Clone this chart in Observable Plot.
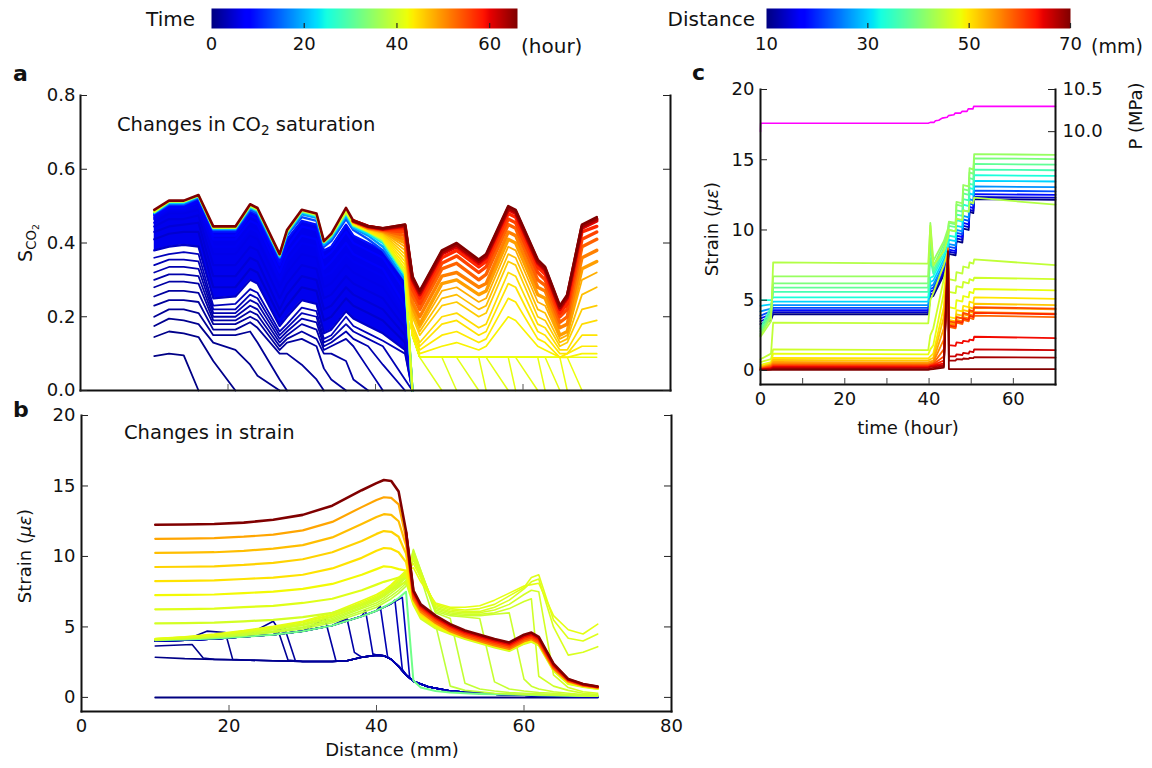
<!DOCTYPE html>
<html><head><meta charset="utf-8">
<script src="https://cdn.jsdelivr.net/npm/d3@7"></script>
<script src="https://cdn.jsdelivr.net/npm/@observablehq/plot@0.6"></script>
<style>
body{margin:0;background:#fff;}
#root{position:relative;width:1152px;height:768px;font-family:"DejaVu Sans",sans-serif;color:#111;overflow:hidden;}
.lbl{position:absolute;white-space:nowrap;line-height:1;}
.rot{transform:translate(-50%,-50%) rotate(-90deg);}
sub{font-size:70%;vertical-align:-0.3em;line-height:0;}
</style></head><body><div id="root"></div>
<script>
// ---------- colour bar ticks ----------
const timeDomain = [0, 66];
const distDomain = [10, 70];
const timeTicks = [0, 20, 40, 60];
const timeTickMarks = [20, 40, 60];
const distTicks = [10, 30, 50, 70];
const distTickMarks = [30, 50, 70];

// ---------- panel a : CO2 saturation vs distance ----------
const distA = [10,12,14,16,18,21,23,24,27,28,30,32,33,34,36,37,39,41,44,45,46,49,51,54,55,58,59,62,63,65,66,68,70];
const aYTicks = [0, 0.2, 0.4, 0.6, 0.8];
const aXMinor = [20, 40, 60];
// early times: CO2 front advancing (values from distance 10 onward)
const satEarly = [
  {t:0.3, v:[.093,.10,.095,0]},
  {t:0.6, v:[.145,.16,.155,.145,.08,0]},
  {t:0.9, v:[.175,.195,.19,.18,.13,.11,.07,.04,0]},
  {t:1.2, v:[.20,.22,.22,.21,.15,.15,.16,.13,.03,0]},
  {t:1.5, v:[.23,.245,.245,.24,.165,.165,.185,.17,.10,.10,.07,.03,0]},
  {t:1.8, v:[.255,.27,.27,.265,.18,.18,.20,.19,.11,.13,.14,.12,.06,.03,0]},
  {t:2.1, v:[.28,.295,.295,.29,.19,.19,.215,.205,.12,.14,.16,.14,.10,.10,.08,.03,0]},
  {t:2.4, v:[.30,.315,.315,.31,.20,.20,.23,.22,.13,.15,.18,.165,.11,.12,.14,.12,.06,0]},
  {t:2.7, v:[.32,.335,.335,.33,.21,.21,.245,.235,.14,.16,.195,.185,.12,.13,.16,.14,.12,.07,0]},
  {t:3.0, v:[.34,.355,.355,.35,.22,.22,.26,.25,.15,.17,.21,.20,.13,.14,.18,.16,.14,.12,.03,0]},
  {t:3.4, v:[.36,.37,.375,.37,.23,.235,.275,.265,.16,.18,.225,.215,.14,.15,.20,.175,.155,.135,.10,0]}
];
// dense blue band (distance 10..45)
const satBand = [
  {t:4,   v:[.38,.39,.395,.39,.25,.255,.30,.29,.175,.20,.245,.235,.155,.165,.215,.195,.175,.155,.11,0]},
  {t:4.5, v:[.41,.425,.43,.43,.28,.28,.33,.32,.2,.23,.28,.27,.19,.2,.25,.23,.21,.19,.13,0]},
  {t:5,   v:[.43,.445,.45,.455,.31,.31,.36,.35,.22,.26,.31,.3,.22,.23,.28,.26,.24,.22,.15,0]},
  {t:5.5, v:[.445,.465,.465,.475,.34,.34,.39,.38,.25,.29,.34,.33,.25,.26,.31,.29,.27,.25,.17,0]},
  {t:6,   v:[.455,.48,.48,.49,.37,.37,.42,.41,.28,.32,.37,.36,.28,.29,.34,.32,.3,.28,.19,0]},
  {t:6.5, v:[.465,.49,.49,.5,.39,.39,.44,.43,.3,.35,.4,.39,.31,.32,.37,.35,.33,.31,.21,0]},
  {t:7,   v:[.47,.495,.495,.51,.41,.41,.46,.45,.32,.37,.42,.41,.33,.35,.4,.37,.35,.33,.23,0]},
  {t:8,   v:[.475,.5,.5,.515,.42,.42,.475,.465,.34,.39,.445,.435,.36,.375,.43,.4,.38,.36,.27,0]},
  {t:9,   v:[.478,.503,.503,.52,.43,.43,.485,.475,.35,.41,.46,.45,.38,.39,.45,.42,.4,.38,.3,0]}
];
const satTop = [
  {t:13,   v:[.48,.505,.505,.522,.435,.435,.49,.48,.36,.42,.47,.46,.39,.405,.465,.435,.41,.38,.3,0]},
  {t:18,   v:[.482,.508,.508,.525,.438,.438,.495,.485,.362,.425,.478,.468,.395,.412,.472,.44,.42,.39,.30,0]},
  {t:23,   v:[.483,.51,.51,.527,.44,.44,.498,.488,.365,.428,.483,.472,.4,.417,.478,.445,.425,.40,.31,0]},
  {t:32,   v:[.484,.512,.512,.528,.441,.441,.5,.49,.367,.43,.486,.475,.402,.42,.482,.448,.43,.405,.315,0]},
  {t:40.5, v:[.485,.513,.513,.529,.442,.442,.502,.492,.368,.432,.488,.477,.403,.422,.485,.45,.432,.41,.32,0]}
];
// after pressure rise: fronts beyond 44 mm (values from distance 44 onward)
const satFront = [
  {t:40.9, v:[.32,.15,.09,0]},
  {t:41.0, v:[.32,.15,.09,.09,0]},
  {t:41.1, v:[.32,.15,.09,.09,.09,0]},
  {t:41.2, v:[.32,.15,.09,.09,.09,.09,0]},
  {t:41.3, v:[.32,.15,.09,.09,.09,.09,.09,0]},
  {t:41.4, v:[.32,.15,.09,.09,.09,.09,.09,.09,0]},
  {t:41.5, v:[.32,.15,.09,.09,.09,.09,.09,.09,.09,0]},
  {t:41.6, v:[.32,.15,.09,.09,.09,.09,.09,.09,.09,.09,0]},
  {t:41.7, v:[.32,.15,.09,.09,.09,.09,.09,.09,.09,.09,.09,0]},
  {t:41.8, v:[.32,.15,.09,.09,.09,.09,.09,.09,.09,.09,.09,.09,0]},
  {t:41.9, v:[.32,.15,.09,.09,.09,.09,.09,.09,.09,.09,.09,.09,.09,0]},
  {t:42.0, v:[.32,.15,.09,.09,.09,.09,.09,.09,.09,.09,.09,.09,.09,.09,.09]}
];
// rising saturation (values from distance 37 onward)
const satRise = [
  {t:43.1, v:[.452,.432,.412,.33,.15,.1,.12,.13,.11,.12,.2,.19,.12,.11,.09,.09,.1,.1]},
  {t:43.7, v:[.453,.434,.415,.34,.16,.11,.15,.16,.13,.14,.25,.24,.14,.13,.09,.1,.12,.12]},
  {t:44.2, v:[.454,.435,.418,.35,.17,.12,.18,.19,.15,.16,.29,.28,.16,.15,.1,.1,.15,.15]},
  {t:44.7, v:[.455,.436,.421,.36,.18,.13,.2,.21,.17,.18,.32,.31,.18,.17,.11,.11,.18,.19]},
  {t:45.8, v:[.456,.437,.424,.37,.2,.15,.23,.24,.2,.21,.35,.34,.2,.19,.12,.13,.22,.23]},
  {t:46.8, v:[.457,.438,.427,.38,.21,.16,.25,.26,.22,.23,.37,.36,.22,.21,.13,.14,.26,.28]},
  {t:47.9, v:[.457,.439,.429,.39,.22,.17,.27,.28,.24,.25,.39,.38,.24,.23,.14,.15,.3,.32]},
  {t:49,   v:[.458,.44,.431,.40,.23,.18,.29,.3,.26,.27,.41,.4,.26,.25,.15,.16,.33,.35]},
  {t:51.1, v:[.458,.441,.433,.41,.24,.2,.31,.32,.28,.29,.43,.42,.28,.27,.17,.18,.36,.38]},
  {t:53.2, v:[.459,.442,.435,.42,.26,.22,.33,.345,.3,.315,.45,.44,.3,.285,.185,.2,.39,.41]},
  {t:55.4, v:[.459,.443,.436,.43,.275,.235,.345,.365,.32,.335,.465,.455,.32,.3,.2,.22,.41,.43]},
  {t:57.5, v:[.46,.444,.437,.44,.29,.25,.36,.38,.335,.35,.48,.47,.335,.315,.21,.235,.43,.445]},
  {t:60.7, v:[.46,.445,.438,.445,.3,.26,.37,.39,.345,.36,.49,.48,.345,.325,.22,.25,.44,.46]},
  {t:63.9, v:[.46,.445,.439,.448,.305,.265,.375,.395,.35,.365,.495,.485,.35,.33,.225,.255,.445,.465]}
];
const satFinal = {t:66, v:[.49,.515,.515,.53,.445,.445,.505,.495,.37,.435,.49,.48,.405,.425,.495,.46,.445,.44,.45,.31,.27,.38,.4,.355,.37,.5,.49,.355,.335,.23,.26,.45,.47]};

// ---------- panel b : strain vs distance ----------
const distB = [10,14,18,22,26,30,34,38,40,41,42,43,44,45,46,48,50,52,54,56,58,60,61,62,64,66,68,70];
const bYTicks = [0, 5, 10, 15, 20];
const bXTicks = [0, 20, 40, 60, 80];
const bXMinor = [20, 40, 60];
const strainZero = {t:0, pts:[[10,0],[70,0]]};
const strainUpper = [[10,4.0],[14,4.05],[18,4.15],[22,4.3],[26,4.45],[30,4.7],[34,5.1],[38,5.75],[40,6.15],[42,6.65],[44,7.3]];
const strainLower = [[10,2.85],[14,2.75],[18,2.7],[22,2.65],[26,2.6],[30,2.55],[34,2.55],[36,2.6],[38,2.85],[40,3.0],[41,2.95],[42,2.7],[43,2.2],[44,1.6],[45,1.15],[47,0.75],[50,0.45],[55,0.25],[60,0.15],[65,0.08],[70,0.05]];
const strainSpikes = [
  {t:0.4, spike:[]},
  {t:0.7, spike:[[10,3.65],[15,3.75],[16.5,2.8]]},
  {t:1.0, spike:[[17,4.7],[19.5,4.6],[20.5,2.7]]},
  {t:1.3, spike:[[26,5.4],[26.5,5.0],[28,2.65]]},
  {t:1.6, spike:[[27.5,5.0],[29,2.6]]},
  {t:1.9, spike:[[33,5.6],[34.5,2.6]]},
  {t:2.2, spike:[[36,5.6],[37,3.2]]},
  {t:2.5, spike:[[38.5,6.2],[39.5,3.1]]},
  {t:2.8, spike:[[40.5,6.5],[41.5,2.9]]},
  {t:3.1, spike:[[42.5,6.9],[43.5,2.0]]},
  {t:3.4, spike:[[43.5,7.1],[44.5,1.4]]}
];
const strainFlatHead = [4.05,4.1,4.18,4.3,4.45,4.7,5.1,5.75,6.15,6.4,6.7,7.05,7.5];
const strainFlatTail = [1.2,0.7,0.45,0.35,0.3,0.25,0.22,0.2,0.18,0.17,0.16,0.14,0.12,0.1,0.1];
const strainFlatTimes = [32];
const strainFronts = [
  {t:38.3, v:[4.1,4.15,4.25,4.4,4.6,4.85,5.3,6.0,6.4,6.7,7.0,7.4,7.9,9.8,8.5,5.2,0.8,0.5,0.4,0.3,0.25,0.2,0.2,0.18,0.15,0.13,0.1,0.1]},
  {t:38.7, v:[4.1,4.17,4.3,4.45,4.65,4.95,5.4,6.15,6.55,6.85,7.2,7.6,8.1,10.2,8.8,6.0,5.6,1.0,0.6,0.45,0.35,0.3,0.28,0.25,0.2,0.15,0.12,0.1]},
  {t:39.0, v:[4.1,4.18,4.32,4.5,4.7,5.0,5.5,6.3,6.7,7.0,7.4,7.8,8.3,10.5,9.0,6.1,5.8,5.7,5.6,1.1,0.6,0.45,0.4,0.35,0.3,0.2,0.15,0.12]},
  {t:39.3, v:[4.1,4.2,4.35,4.55,4.8,5.1,5.6,6.4,6.85,7.15,7.55,8.0,8.5,10.4,9.0,6.2,5.9,5.8,5.8,5.9,6.0,1.3,0.8,0.6,0.4,0.3,0.2,0.15]},
  {t:39.7, v:[4.12,4.22,4.38,4.6,4.85,5.15,5.7,6.5,6.95,7.25,7.65,8.1,8.6,10.2,8.9,6.3,6.0,5.9,5.9,6.0,6.3,6.8,7.0,1.5,0.8,0.5,0.3,0.2]},
  {t:40.0, v:[4.12,4.24,4.4,4.62,4.9,5.2,5.75,6.55,7.0,7.35,7.75,8.2,8.7,10.0,8.8,6.4,6.1,6.0,6.0,6.2,6.6,7.3,7.6,7.5,1.6,0.7,0.4,0.3]},
  {t:40.5, v:[4.15,4.26,4.43,4.65,4.95,5.3,5.85,6.65,7.1,7.45,7.85,8.3,8.8,9.8,8.7,6.5,6.2,6.1,6.1,6.4,6.9,7.7,8.2,8.4,5.0,3.0,3.2,3.6]},
  {t:41.0, v:[4.15,4.28,4.45,4.7,5.0,5.35,5.9,6.75,7.2,7.55,7.95,8.4,8.9,9.5,8.5,6.6,6.3,6.2,6.3,6.6,7.2,7.8,8.5,8.7,5.5,4.2,4.0,4.5]},
  {t:41.5, v:[4.18,4.3,4.5,4.75,5.05,5.4,6.0,6.85,7.3,7.6,8.0,8.5,9.0,9.2,8.2,6.7,6.4,6.4,6.5,6.9,7.4,7.9,8.0,8.1,5.8,4.8,4.5,5.2]}
];
const strainSteps = [
  {t:40.0, v:[5.25,5.27,5.3,5.4,5.5,5.7,6.0,6.6,7.0,7.3,7.6,7.9,8.2,6.6,5.6,4.9,4.5,4.15,3.85,3.55,3.3,3.8,3.95,3.7,1.9,0.95,0.75,0.6]},
  {t:41.0, v:[6.25,6.27,6.3,6.4,6.5,6.7,7.0,7.6,8.0,8.2,8.35,8.5,8.6,6.7,5.7,5.0,4.55,4.2,3.9,3.6,3.35,3.85,4.0,3.75,1.95,1.0,0.78,0.62]},
  {t:42.6, v:[7.25,7.27,7.3,7.4,7.5,7.7,8.05,8.7,9.1,9.3,9.25,9.1,9.0,6.8,5.8,5.1,4.6,4.25,3.95,3.65,3.4,3.9,4.05,3.8,2.0,1.05,0.8,0.65]},
  {t:44.2, v:[8.25,8.27,8.3,8.4,8.5,8.7,9.15,9.9,10.4,10.6,10.55,10.3,9.6,6.9,5.9,5.2,4.65,4.3,4.0,3.7,3.45,4.0,4.15,3.85,2.05,1.1,0.82,0.68]},
  {t:45.3, v:[9.25,9.27,9.3,9.4,9.55,9.8,10.3,11.1,11.6,11.8,11.75,11.4,10.2,7.0,6.0,5.3,4.75,4.35,4.05,3.75,3.5,4.05,4.2,3.9,2.1,1.15,0.85,0.7]},
  {t:46.8, v:[10.25,10.27,10.3,10.4,10.55,10.8,11.35,12.3,12.8,13.0,12.95,12.5,10.8,7.2,6.2,5.4,4.85,4.45,4.15,3.85,3.6,4.15,4.3,4.0,2.15,1.2,0.88,0.73]},
  {t:48.5, v:[11.25,11.27,11.3,11.4,11.55,11.85,12.45,13.5,14.0,14.2,14.15,13.7,11.3,7.4,6.4,5.6,5.0,4.6,4.3,4.0,3.75,4.3,4.45,4.15,2.25,1.25,0.9,0.75]}
];
// orange band near the final curve (values from distance 44 onward)
const strainLate = [
  {t:51.1, v:[11.5,7.0,6.1,5.3,4.7,4.3,4.0,3.7,3.45,4.0,4.15,3.85,2.05,1.15,0.85,0.7]},
  {t:54.3, v:[11.6,7.2,6.25,5.45,4.85,4.42,4.12,3.82,3.57,4.12,4.27,3.97,2.15,1.2,0.88,0.72]},
  {t:57.5, v:[11.7,7.35,6.4,5.6,5.0,4.55,4.25,3.95,3.7,4.25,4.4,4.1,2.25,1.25,0.9,0.74]},
  {t:60.7, v:[11.75,7.5,6.5,5.7,5.1,4.65,4.35,4.05,3.8,4.35,4.5,4.2,2.32,1.28,0.93,0.76]}
];
const strainFinal = {t:66, v:[12.25,12.27,12.3,12.4,12.6,12.95,13.6,14.7,15.2,15.42,15.35,14.6,11.8,7.6,6.6,5.8,5.2,4.75,4.45,4.15,3.9,4.45,4.6,4.3,2.4,1.3,0.95,0.78]};

// ---------- panel c : strain vs time, pressure ----------
const timeC = [0,2.5,3,39.8,40.3,41,43.5,44.5,44.7,46.3,46.5,47.9,48.1,49.4,49.6,50.5,50.7,70];
const cYTicks = [0, 5, 10, 15, 20];
const cXTicks = [0, 20, 40, 60];
const cXMinor = [10, 20, 30, 40, 50, 60];
const pTicks = [10.0, 10.5];
const strainByDist = [
  {d:10, v:[3.3,3.6,4.0,4.0,5.2,5.3,6.8,7.6,8.3,8.2,9.2,9.1,10.1,10.0,11.3,11.2,12.2,12.15]},
  {d:14, v:[3.5,3.8,4.15,4.15,5.4,5.5,7.0,7.8,8.45,8.35,9.4,9.3,10.3,10.2,11.45,11.35,12.35,12.3]},
  {d:18, v:[3.7,4.0,4.3,4.3,5.6,5.7,7.2,8.0,8.6,8.5,9.6,9.5,10.5,10.4,11.65,11.55,12.55,12.5]},
  {d:22, v:[3.9,4.2,4.45,4.45,5.8,5.9,7.4,8.2,8.8,8.7,9.8,9.7,10.75,10.65,11.9,11.8,12.8,12.75]},
  {d:26, v:[4.2,4.4,4.65,4.65,6.0,6.1,7.6,8.4,9.0,8.9,10.0,9.9,11.0,10.9,12.2,12.1,13.1,13.05]},
  {d:30, v:[4.6,4.7,4.9,4.9,6.3,6.4,7.9,8.7,9.3,9.2,10.3,10.2,11.4,11.3,12.6,12.5,13.5,13.45]},
  {d:33, v:[5.0,5.0,5.2,5.2,6.6,6.7,8.2,9.0,9.6,9.5,10.7,10.6,11.8,11.7,13.0,12.9,13.9,13.85]},
  {d:36, v:[3.0,4.5,5.6,5.6,8.0,6.9,8.5,9.4,10.0,9.9,11.1,11.0,12.2,12.1,13.3,13.2,14.3,14.25]},
  {d:38, v:[2.8,4.2,5.9,5.9,9.0,7.1,8.7,9.7,10.3,10.2,11.4,11.3,12.6,12.5,13.7,13.6,14.7,14.65]},
  {d:40, v:[2.6,4.0,6.2,6.2,9.8,7.4,9.0,9.9,10.5,10.4,11.8,11.7,12.9,12.8,14.1,14.0,15.1,15.05]},
  {d:42, v:[2.5,3.8,6.7,6.7,10.5,7.8,9.2,10.1,10.6,10.5,12.0,11.9,13.2,13.1,14.4,14.3,15.4,15.35]},
  {d:44, v:[2.4,3.5,7.7,7.6,10.3,7.5,8.5,9.5,10.0,9.9,10.8,10.7,11.4,11.3,12.0,11.9,12.3,11.8]},
  {d:45, v:[0.8,1.2,3.4,3.35,5.0,5.5,7.5,8.5,6.5,6.4,7.0,6.9,7.4,7.3,7.7,7.6,7.9,7.5]},
  {d:46, v:[0.6,0.8,1.5,1.45,2.5,3.0,6.5,8.0,5.6,5.5,6.0,5.9,6.3,6.2,6.5,6.4,6.6,6.5]},
  {d:48, v:[0.4,0.6,1.2,1.15,1.5,1.8,5.5,8.2,4.5,4.4,5.0,4.9,5.3,5.2,5.6,5.5,5.8,5.7]},
  {d:50, v:[0.3,0.5,0.9,0.85,1.0,1.2,4.5,8.4,3.8,3.7,4.3,4.2,4.6,4.5,4.9,4.8,5.2,5.1]},
  {d:52, v:[0.25,0.45,0.75,0.7,0.8,0.9,3.8,8.5,3.6,3.5,4.0,3.9,4.3,4.2,4.5,4.4,4.75,4.65]},
  {d:54, v:[0.2,0.4,0.6,0.58,0.65,0.7,3.0,8.6,3.4,3.3,3.8,3.7,4.0,3.9,4.2,4.1,4.45,4.35]},
  {d:56, v:[0.18,0.35,0.5,0.48,0.55,0.6,2.2,8.7,3.3,3.2,3.6,3.5,3.8,3.7,4.0,3.9,4.15,4.05]},
  {d:58, v:[0.15,0.3,0.42,0.4,0.45,0.5,1.5,8.6,3.1,3.0,3.4,3.3,3.6,3.5,3.75,3.65,3.9,3.8]},
  {d:60, v:[0.12,0.25,0.36,0.35,0.4,0.45,1.0,8.5,3.5,3.4,3.8,3.7,4.1,4.0,4.3,4.2,4.5,4.4]},
  {d:62, v:[0.1,0.2,0.3,0.28,0.35,0.4,0.7,8.4,3.2,3.1,3.5,3.4,3.7,3.6,3.9,3.8,4.1,4.0]},
  {d:64, v:[0.08,0.15,0.25,0.23,0.3,0.35,0.5,8.3,1.8,1.75,2.0,1.95,2.1,2.05,2.2,2.15,2.4,2.3]},
  {d:66, v:[0.06,0.12,0.2,0.18,0.25,0.28,0.4,8.2,1.0,1.0,1.15,1.1,1.25,1.2,1.35,1.3,1.5,1.45]},
  {d:68, v:[0.04,0.08,0.12,0.1,0.15,0.18,0.3,8.0,0.7,0.7,0.8,0.78,0.85,0.83,0.9,0.88,0.95,0.92]},
  {d:70, v:[0.02,0.04,0.05,0.05,0.08,0.1,0.2,8.5,0.1,0.1,0.1,0.1,0.1,0.1,0.1,0.1,0.1,0.1]}
];
const pressureTime = [0,0.05,39.8,40.3,41.2,41.5,42.3,43.1,44.3,44.6,45.9,46.2,47.5,47.8,49.0,49.3,50.4,50.6,70];
const pressureMPa  = [10.0,10.1,10.1,10.11,10.11,10.13,10.135,10.16,10.17,10.19,10.2,10.22,10.22,10.24,10.24,10.27,10.27,10.3,10.3];

// ---------- helpers ----------
function jet(t) {
  t = Math.max(0, Math.min(1, t));
  const seg = (pts) => {
    for (let i = 1; i < pts.length; i++) {
      if (t <= pts[i][0]) { const [x0, y0] = pts[i - 1], [x1, y1] = pts[i]; return y0 + (y1 - y0) * (t - x0) / (x1 - x0); }
    }
    return pts[pts.length - 1][1];
  };
  const r = seg([[0,0],[0.35,0],[0.66,1],[0.89,1],[1,0.5]]);
  const g = seg([[0,0],[0.125,0],[0.375,1],[0.64,1],[0.91,0],[1,0]]);
  const b = seg([[0,0.5],[0.11,1],[0.34,1],[0.65,0],[1,0]]);
  return `rgb(${Math.round(r*255)},${Math.round(g*255)},${Math.round(b*255)})`;
}
const FONT = '"DejaVu Sans", sans-serif';
const baseStyle = {fontFamily: FONT, fontSize: "18px", color: "#111", background: "transparent", overflow: "visible"};
const root = document.getElementById("root");
function place(node, left, top) {
  const w = document.createElement("div");
  w.style.cssText = `position:absolute;left:${left}px;top:${top}px;`;
  w.appendChild(node); root.appendChild(w);
}
function label(html, css, cls) {
  const d = document.createElement("div");
  d.className = "lbl" + (cls ? " " + cls : "");
  d.innerHTML = html; d.style.cssText = css; root.appendChild(d);
}
const rowsOf = (curves, xs, tag, key = "t") =>
  curves.flatMap((c, k) => c.v.map((y, i) => ({x: xs[i], y, t: c[key], id: tag + k})));
const L = (w, extra = {}) => ({x: "x", y: "y", z: "id", stroke: "t", strokeWidth: w, strokeLinejoin: "round", ...extra});
const spine = (anchor) => Plot.frame({anchor, stroke: "#111", strokeWidth: 2});

// ---------- colour bars ----------
function colorbar(domain, ticks, marks, left, ml, mr) {
  let node;
  try {
    node = Plot.plot({
      width: 340, height: 62, marginLeft: ml, marginRight: mr, marginTop: 8, marginBottom: 34,
      x: {domain}, y: {domain: [0, 1], axis: null},
      color: {type: "linear", domain, interpolate: jet},
      style: baseStyle,
      marks: [
        Plot.raster({fill: (x, y) => x, x1: domain[0], x2: domain[1], y1: 0, y2: 1, width: 306, height: 2, imageRendering: "auto"}),
        Plot.tickX(marks, {insetTop: 15, stroke: "#222", strokeWidth: 1.2}),
        Plot.axisX({ticks, tickSize: 0, tickPadding: 9, fontSize: 18, label: null})
      ]
    });
  } catch (e) {
    node = Plot.legend({color: {type: "linear", domain, interpolate: jet}, width: 306, ticks: ticks.length, label: null});
  }
  place(node, left, 0);
}
colorbar(timeDomain, timeTicks, timeTickMarks, 200, 11, 23);
colorbar(distDomain, distTicks, distTickMarks, 756, 10, 26);
label("Time", "right:957px;top:9px;font-size:20px;");
label("(hour)", "left:521px;top:36px;font-size:20px;");
label("Distance", "right:397px;top:9px;font-size:20px;");
label("(mm)", "left:1091px;top:37px;font-size:19px;");

// ---------- panel a ----------
{
  const W = 700, H = 345, ml = 80, mr = 30, mt = 35, mb = 15;
  const iw = W - ml - mr, ih = H - mt - mb;
  const bandFill = distA.slice(0, satBand[0].v.length).map((x, i) => ({x, y1: satBand[0].v[i], y2: satBand[satBand.length - 1].v[i]}));
  const node = Plot.plot({
    width: W, height: H, marginLeft: ml, marginRight: mr, marginTop: mt, marginBottom: mb,
    x: {domain: [0, 80]}, y: {domain: [0, 0.8]},
    color: {type: "linear", domain: timeDomain, interpolate: jet},
    style: baseStyle,
    marks: [
      Plot.areaY(bandFill, {x: "x", y1: "y1", y2: "y2", fill: "rgb(0,0,238)"}),
      Plot.line(rowsOf(satEarly, distA, "e"), L(1.8)),
      Plot.line(rowsOf(satBand, distA, "b"), L(2.2)),
      Plot.line(rowsOf(satTop, distA, "u"), L(2.4)),
      Plot.line(rowsOf(satFront, distA.slice(18), "f"), L(1.5)),
      Plot.line(rowsOf(satRise, distA.slice(15), "r"), L((d) => d.t > 48 ? 3.4 : 1.7)),
      Plot.line(rowsOf([satFinal], distA, "z"), L(2.6)),
      spine("left"), spine("right"), spine("bottom"),
      Plot.tickY(aYTicks, {insetRight: iw - 7, stroke: "#222"}),
      Plot.tickY(aYTicks, {insetLeft: iw - 7, stroke: "#222"}),
      Plot.tickX(aXMinor, {insetTop: ih - 6, stroke: "#555"}),
      Plot.axisY({ticks: aYTicks, tickSize: 0, tickPadding: 5, tickFormat: d3.format(".1f"), label: null, fontSize: 18}),
      Plot.axisX({ticks: [], label: null})
    ]
  });
  place(node, 0, 60);
}
label("a", "left:13px;top:63px;font-size:22px;font-weight:bold;");
label("Changes in CO<sub>2</sub> saturation", "left:117px;top:115px;font-size:19.5px;");
label("S<sub>CO<sub>2</sub></sub>", "left:26px;top:243px;font-size:19px;", "rot");

// ---------- panel b ----------
{
  const W = 700, H = 370, ml = 81, mr = 29, mt = 15, mb = 59;
  const iw = W - ml - mr, ih = H - mt - mb;
  const blueRows = strainSpikes.flatMap((c, k) => {
    let pts;
    if (c.spike.length === 0) pts = strainLower;
    else {
      const a = c.spike[0][0], b = c.spike[c.spike.length - 1][0];
      pts = strainUpper.filter(p => p[0] < a).concat(c.spike, strainLower.filter(p => p[0] > b));
    }
    return pts.map(([x, y]) => ({x, y, t: c.t, id: "s" + k}));
  });
  const zeroRows = strainZero.pts.map(([x, y]) => ({x, y, t: strainZero.t, id: "zero"}));
  const flatCurves = strainFlatTimes.map(t => ({t, v: strainFlatHead.concat(strainFlatTail)}));
  const node = Plot.plot({
    width: W, height: H, marginLeft: ml, marginRight: mr, marginTop: mt, marginBottom: mb,
    x: {domain: [0, 80]}, y: {domain: [-1, 20]},
    color: {type: "linear", domain: timeDomain, interpolate: jet},
    style: baseStyle,
    marks: [
      Plot.line(zeroRows, L(2)),
      Plot.line(blueRows, L(1.6)),
      Plot.line(rowsOf(flatCurves, distB, "g"), L(2)),
      Plot.line(rowsOf(strainFronts, distB, "y"), L(1.6)),
      Plot.line(rowsOf(strainSteps, distB, "h"), L(2.2)),
      Plot.line(rowsOf(strainLate, distB.slice(12), "o"), L(2.6)),
      Plot.line(rowsOf([strainFinal], distB, "z"), L(2.6)),
      spine("left"), spine("right"), spine("bottom"),
      Plot.tickY(bYTicks, {insetRight: iw - 7, stroke: "#222"}),
      Plot.tickY(bYTicks, {insetLeft: iw - 7, stroke: "#222"}),
      Plot.tickX(bXMinor, {insetTop: ih - 6, stroke: "#555"}),
      Plot.axisY({ticks: bYTicks, tickSize: 0, tickPadding: 6, label: null, fontSize: 18}),
      Plot.axisX({ticks: bXTicks, tickSize: 0, tickPadding: 8, label: null, fontSize: 18})
    ]
  });
  place(node, 0, 400);
}
label("b", "left:13px;top:399px;font-size:22px;font-weight:bold;");
label("Changes in strain", "left:124px;top:423px;font-size:19.5px;");
label("Strain (<i>με</i>)", "left:25px;top:556px;font-size:18px;", "rot");
label("Distance (mm)", "left:392px;top:750px;font-size:18px;transform:translate(-50%,-50%);");

// ---------- panel c ----------
{
  const W = 462, H = 385, ml = 70, mr = 97, mt = 29, mb = 61;
  const iw = W - ml - mr, ih = H - mt - mb;
  const pToY = (p) => 17 + (p - 10) * 6; // secondary axis: 10.0 MPa at strain 17, 10.5 MPa at strain 20
  const pRows = pressureTime.map((x, i) => ({x, y: pToY(pressureMPa[i])}));
  const node = Plot.plot({
    width: W, height: H, marginLeft: ml, marginRight: mr, marginTop: mt, marginBottom: mb,
    x: {domain: [0, 70]}, y: {domain: [-1, 20]},
    color: {type: "linear", domain: distDomain, interpolate: jet},
    style: baseStyle,
    marks: [
      Plot.line(rowsOf(strainByDist, timeC, "c", "d"), L(1.8)),
      Plot.line(pRows, {x: "x", y: "y", stroke: "#ff00ff", strokeWidth: 1.6}),
      spine("left"), spine("right"), spine("bottom"),
      Plot.tickY(cYTicks, {insetRight: iw - 7, stroke: "#222"}),
      Plot.tickY(pTicks.map(pToY), {insetLeft: iw - 7, stroke: "#222"}),
      Plot.tickX(cXMinor, {insetTop: ih - 6, stroke: "#444"}),
      Plot.axisY({ticks: cYTicks, tickSize: 0, tickPadding: 6, label: null, fontSize: 18}),
      Plot.axisY(pTicks.map(pToY), {anchor: "right", tickSize: 0, tickPadding: 7, label: null, fontSize: 18,
        tickFormat: (v) => (10 + (v - 17) / 6).toFixed(1)}),
      Plot.axisX({ticks: cXTicks, tickSize: 0, tickPadding: 8, label: null, fontSize: 18})
    ]
  });
  place(node, 690, 60);
}
label("c", "left:692px;top:62px;font-size:22px;font-weight:bold;");
label("Strain (<i>με</i>)", "left:712px;top:229px;font-size:18px;", "rot");
label("time (hour)", "left:908px;top:428px;font-size:18px;transform:translate(-50%,-50%);");
label("P (MPa)", "left:1136px;top:116px;font-size:18px;", "rot");
</script></body></html>
